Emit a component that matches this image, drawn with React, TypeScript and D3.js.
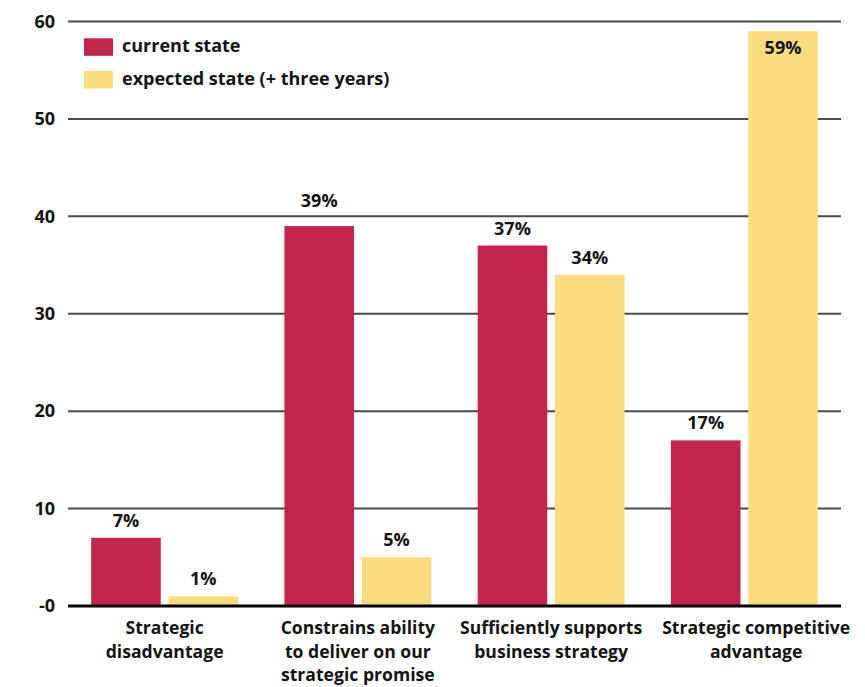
import React, { useMemo } from "react";
import * as d3 from "d3";

const categories = [
  ["Strategic", "disadvantage"],
  ["Constrains ability", "to deliver on our", "strategic promise"],
  ["Sufficiently supports", "business strategy"],
  ["Strategic competitive", "advantage"],
];
const seriesNames = ["current state", "expected state (+ three years)"];
const currentState = [7, 39, 37, 17];
const expectedState = [1, 5, 34, 59];
const yTicks = [0, 10, 20, 30, 40, 50, 60];
const yTickLabels = ["-0", "10", "20", "30", "40", "50", "60"];
const colors = ["#C2244B", "#F9DC7E"];

const W = 865;
const H = 687;
const FONT = "'Open Sans', 'Noto Sans', sans-serif";
const FS = 18;
const CAT_FS = 17.6;

export default function App() {
  const x0 = d3
    .scaleBand<number>()
    .domain(categories.map((_, i) => i))
    .range([68, 841])
    .paddingInner(0.24)
    .paddingOuter(0.12);
  const x1 = d3
    .scaleBand<number>()
    .domain([0, 1])
    .range([0, x0.bandwidth()])
    .paddingInner(0.1)
    .paddingOuter(0);
  const y = d3.scaleLinear().domain([0, 60]).range([606, 21.5]);
  const series = [currentState, expectedState];

  const catX = useMemo(() => {
    const canvas = document.createElement("canvas");
    const ctx = canvas.getContext("2d");
    const widths = categories.map((lines) => {
      if (!ctx) return 150;
      ctx.font = `700 ${CAT_FS}px ${FONT}`;
      return Math.max(...lines.map((l) => ctx.measureText(l).width));
    });
    const centers = categories.map((_, i) => (x0(i) as number) + x0.bandwidth() / 2);
    for (let i = 1; i < centers.length; i++) {
      const prevRight = centers[i - 1] + widths[i - 1] / 2;
      const left = centers[i] - widths[i] / 2;
      const gap = 20;
      if (left < prevRight + gap) centers[i] += prevRight + gap - left;
    }
    return centers;
  }, []);

  const labelY = (v: number) => {
    const top = y(v);
    if (top < 50) return top + 23;
    let base = top - 11;
    for (const t of yTicks) {
      const gy = y(t);
      if (t > 0 && gy >= base - 14 && gy <= base + 2) base = gy - 9.5;
    }
    return base;
  };

  return (
    <svg
      width={W}
      height={H}
      style={{ position: "absolute", left: 0, top: 0, background: "#fff" }}
      fontFamily={FONT}
    >
      {yTicks.map((t) =>
        t === 0 ? null : (
          <line
            key={"g" + t}
            x1={68}
            x2={841}
            y1={y(t)}
            y2={y(t)}
            stroke="#4a4a4a"
            strokeWidth={2}
          />
        )
      )}
      {yTicks.map((t, i) => (
        <text
          key={"t" + t}
          x={55}
          y={y(t) + 6.3}
          textAnchor="end"
          fontSize={FS}
          fontWeight={700}
          fill="#141414"
        >
          {yTickLabels[i]}
        </text>
      ))}
      {series.map((vals, s) =>
        vals.map((v, i) => {
          const bx = (x0(i) as number) + (x1(s) as number);
          const bw = x1.bandwidth();
          return (
            <g key={`b${s}-${i}`}>
              <rect x={bx} y={y(v)} width={bw} height={y(0) - y(v)} fill={colors[s]} />
              <text
                x={bx + bw / 2}
                y={labelY(v)}
                textAnchor="middle"
                fontSize={FS}
                fontWeight={700}
                fill="#141414"
              >
                {v}%
              </text>
            </g>
          );
        })
      )}
      <line x1={68} x2={841} y1={y(0)} y2={y(0)} stroke="#000" strokeWidth={3} />
      {categories.map((lines, i) => (
        <text
          key={"c" + i}
          textAnchor="middle"
          fontSize={CAT_FS}
          fontWeight={700}
          fill="#141414"
        >
          {lines.map((ln, j) => (
            <tspan key={j} x={catX[i]} y={634 + j * 23.5}>
              {ln}
            </tspan>
          ))}
        </text>
      ))}
      {seriesNames.map((n, i) => (
        <g key={"l" + i} transform={`translate(84, ${38.3 + i * 32.7})`}>
          <rect x={0} y={0} width={29} height={17.5} fill={colors[i]} />
          <text x={38} y={13.6} fontSize={FS} fontWeight={700} fill="#141414">
            {n}
          </text>
        </g>
      ))}
    </svg>
  );
}
